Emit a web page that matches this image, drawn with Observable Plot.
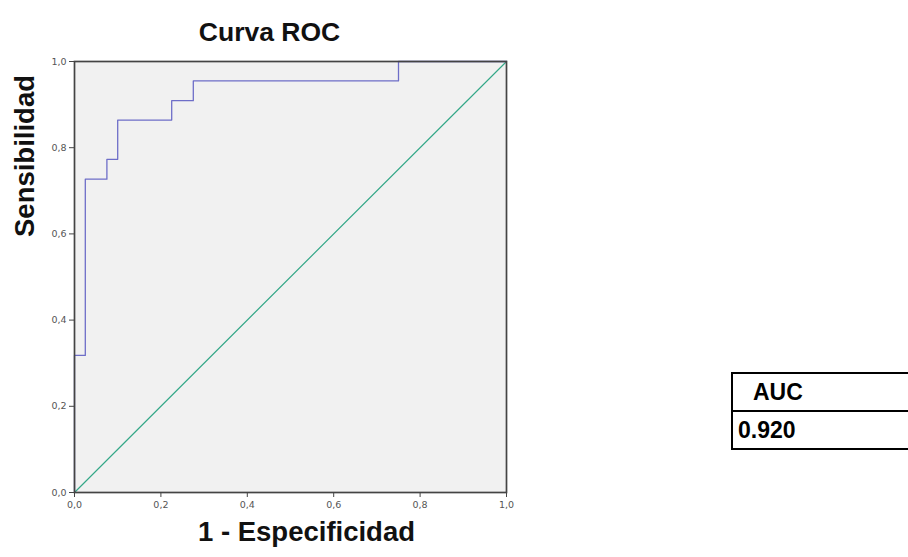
<!DOCTYPE html>
<html>
<head>
<meta charset="utf-8">
<script src="https://cdn.jsdelivr.net/npm/d3@7"></script>
<script src="https://cdn.jsdelivr.net/npm/@observablehq/plot@0.6"></script>
<style>
  html, body { margin: 0; padding: 0; background: #fff; overflow: hidden; }
  #wrap { position: relative; width: 908px; height: 557px; overflow: hidden; }
  #auc { position: absolute; left: 731px; top: 372px; width: 177px;
         font-family: "Liberation Sans", Arial, sans-serif; font-weight: bold; font-size: 23px; color: #000;
         border-top: 2px solid #000; border-left: 2px solid #000; }
  #auc div { height: 36px; line-height: 36px; border-bottom: 2px solid #000; box-sizing: content-box; }
</style>
</head>
<body>
<div id="wrap"></div>
<script>
// ROC curve vertices (1 - especificidad, sensibilidad)
const fpr = [0, 0, 0.025, 0.075, 0.1, 0.225, 0.275, 0.75, 1];
const tpr = [0, 0.318, 0.727, 0.773, 0.864, 0.909, 0.955, 1, 1];
// reference diagonal
const diagX = [0, 1];
const diagY = [0, 1];
const xTicks = [0, 0.2, 0.4, 0.6, 0.8, 1.0];
const yTicks = [0, 0.2, 0.4, 0.6, 0.8, 1.0];
const titleText = "Curva ROC";
const xLabel = "1 - Especificidad";
const yLabel = "Sensibilidad";
const aucLabel = "AUC";
const aucValue = "0.920";

const roc = fpr.map((x, i) => ({x, y: tpr[i]}));
const diag = diagX.map((x, i) => ({x, y: diagY[i]}));
const fmt = d => d.toFixed(1).replace(".", ",");
const bold = "'Liberation Sans', Arial, sans-serif";

const chart = Plot.plot({
  width: 908, height: 557,
  marginLeft: 74, marginRight: 402, marginTop: 61, marginBottom: 65,
  x: {domain: [0, 1]},
  y: {domain: [0, 1]},
  style: {background: "white", fontFamily: "'DejaVu Sans', sans-serif"},
  marks: [
    Plot.frame({fill: "#f1f1f1", stroke: null}),
    Plot.line(diag, {x: "x", y: "y", stroke: "#34a888", strokeWidth: 1.2}),
    Plot.line(roc, {x: "x", y: "y", curve: "step-after", stroke: "#6e6ec8", strokeWidth: 1.3}),
    Plot.frame({stroke: "#444", strokeWidth: 1.7}),
    Plot.axisX({ticks: xTicks, tickFormat: fmt, tickSize: 5, tickPadding: 4, fontSize: 9.5, color: "#555", stroke: "#444", label: null}),
    Plot.axisY({ticks: yTicks, tickFormat: fmt, tickSize: 5, tickPadding: 3, fontSize: 9.5, color: "#555", stroke: "#444", label: null}),
    Plot.text([titleText], {frameAnchor: "top", dx: -21, dy: -39, text: d => d, fontSize: 26.5, fontWeight: "bold", fontFamily: bold, fill: "#111"}),
    Plot.text([xLabel], {frameAnchor: "bottom", dx: 16, dy: 48, text: d => d, fontSize: 27.5, fontWeight: "bold", fontFamily: bold, fill: "#111"}),
    Plot.text([yLabel], {frameAnchor: "left", dx: -49, dy: -40, rotate: -90, text: d => d, fontSize: 27.5, fontWeight: "bold", fontFamily: bold, fill: "#111"})
  ]
});
const wrap = document.getElementById("wrap");
wrap.appendChild(chart);

const box = document.createElement("div");
box.id = "auc";
box.innerHTML = `<div style="padding-left:20px">${aucLabel}</div><div style="padding-left:5px">${aucValue}</div>`;
wrap.appendChild(box);
</script>
</body>
</html>
